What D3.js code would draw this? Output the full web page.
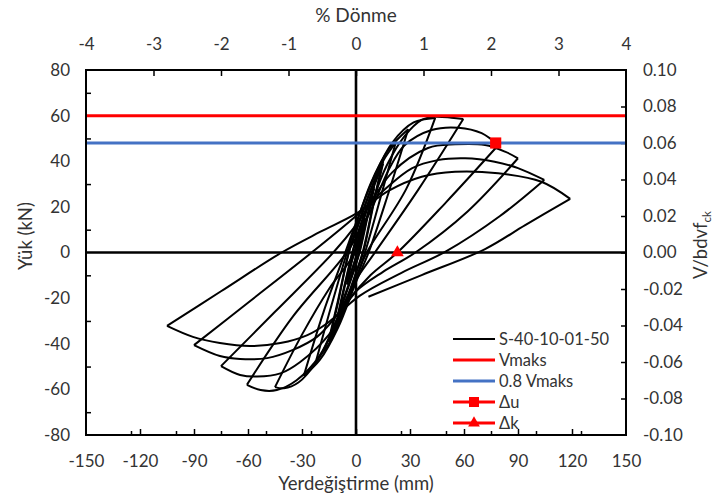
<!DOCTYPE html>
<html>
<head>
<meta charset="utf-8">
<script src="https://cdn.jsdelivr.net/npm/d3@7"></script>
<style>
  html, body { margin: 0; padding: 0; background: #fff; }
  svg { display: block; font-family: Lato, "Open Sans", sans-serif; }
</style>
</head>
<body>
<svg id="chart" width="714" height="499"></svg>
<script>
// Axis tick values
const displacementTicks = [-150, -120, -90, -60, -30, 0, 30, 60, 90, 120, 150];
const displacementMinorTicks = [-125, -100, -75, -50, -25, 25, 50, 75, 100, 125];
const loadTicks = [-80, -60, -40, -20, 0, 20, 40, 60, 80];
const loadMinorTicks = [-70, -50, -30, -10, 10, 30, 50, 70];
const driftTicks = [-4, -3, -2, -1, 0, 1, 2, 3, 4];
const ratioTicks = [-0.10, -0.08, -0.06, -0.04, -0.02, 0, 0.02, 0.04, 0.06, 0.08, 0.10];

// Reference levels and characteristic points
const vMaks = 60;        // kN
const vMaks08 = 48;      // 0.8 Vmaks, kN
const deltaU = [77.6, 48];
const deltaK = [23, 0];

// Load–displacement record [displacement (mm), load (kN)]
const hysteresis = [
  // ±5 mm
  [0, 0], [2.5, 7.5], [5, 14], [2.5, 5], [0, -2], [-2.5, -8], [-5, -13], [-2.5, -4], [0, 2],
  [2.5, 8], [5, 15], [2.5, 5.5], [0, -2], [-2.5, -8.5], [-5, -14], [-2.5, -4.5], [0, 2.5],
  // ±10 mm
  [5, 16], [10, 28], [6, 14], [2, 0], [0, -5], [-5, -16], [-10, -27], [-6, -13], [-2, 0], [0, 5],
  [5, 17], [10, 29], [6, 15], [2, 1], [0, -5], [-5, -17], [-10, -28], [-6, -14], [-2, 0], [0, 6],
  // ±15 mm
  [10, 29], [15, 39], [10, 22], [4, 0], [0, -9], [-7, -24], [-15, -38], [-10, -21], [-4, 0], [0, 9],
  [8, 27], [15, 40], [10, 23], [4, 1], [0, -9], [-7, -25], [-15, -39], [-10, -22], [-4, 0], [0, 10],
  // ±22 mm
  [8, 27], [15, 40], [22, 48], [15, 28], [5, 0], [0, -12], [-8, -28], [-15, -40], [-22, -47],
  [-15, -27], [-5, 0], [0, 12],
  // ±30 mm
  [8, 30], [18, 45], [29, 54], [18, 26], [7, 0], [0, -13], [-10, -33], [-20, -47], [-29, -54],
  [-18, -26], [-6, 0], [0, 13],
  // ±45 mm
  [10, 33], [20, 48], [32, 57], [44, 59], [28, 28], [6, 0], [0, -11], [-12, -33], [-22, -48],
  [-32, -57], [-40, -59.5], [-45, -59], [-30, -36], [-15, -16], [-0.6, 0],
  // ±60 mm
  [8, 20], [17, 38], [27, 51], [36.5, 58.1], [43.9, 59.5], [53, 59.1], [59.6, 58.5], [35, 28],
  [10.5, 0], [0, -12], [-10, -28], [-20, -45], [-33, -56], [-44, -60.3], [-53, -60.3], [-60.6, -58],
  [-35, -28], [-5.2, 0],
  // ±75 mm
  [8, 18], [18, 36], [27, 47], [42, 53.7], [56.9, 54.7], [69.8, 52.3], [79, 47], [50, 22], [23, 0],
  [8, -10], [-3, -20], [-15, -36], [-31, -48], [-42, -53], [-55, -54.4], [-64.4, -53.7], [-75, -49.8],
  [-45, -26], [-12.6, 0],
  // ±90 mm
  [0, 12], [20, 35], [40, 45.8], [55, 47.4], [71.7, 47.1], [82.8, 44.2], [90, 41.3], [62, 18], [33, 0],
  [15, -8.5], [0, -17], [-10, -27], [-21.7, -37], [-35, -42.7], [-49.4, -46.3], [-64.4, -46.7],
  [-75.6, -45.4], [-90, -40.6], [-60, -22], [-24.6, 0],
  // ±105 mm
  [0, 16], [15, 27], [31, 36.9], [45.4, 40.5], [60.6, 41.3], [77, 39.8], [90, 37], [104.6, 31.8],
  [80, 16], [50, 0.5], [25, -9], [2, -19], [-16, -31], [-27, -36.2], [-42, -39.7],
  [-59, -41], [-75.6, -39.7], [-90.6, -37], [-105, -32.2], [-75, -17], [-41.3, 0], [-20, 9], [0, 17],
  // +120 mm and final unloading
  [18, 27], [36.5, 33.2], [55, 35.4], [79, 34.7], [103, 31], [119, 23.5], [94, 12], [71.7, 1.5],
  [36.5, -9.9], [6.9, -19.4]
];

const legendLabels = ["S-40-10-01-50", "Vmaks", "0.8 Vmaks", "\u0394u", "\u0394k"];

// ---------------------------------------------------------------------------
const svg = d3.select("#chart");
const P = { left: 86, right: 626, top: 70, bottom: 435 };
const textColor = "#333";
const RED = "#ff0000", BLUE = "#4472c4";

const x = d3.scaleLinear().domain([-150, 150]).range([P.left, P.right]);
const y = d3.scaleLinear().domain([-80, 80]).range([P.bottom, P.top]);
const xTop = d3.scaleLinear().domain([-4, 4]).range([P.left, P.right]);
const yRight = d3.scaleLinear().domain([-0.1, 0.1]).range([P.bottom, P.top]);

function styleLabels(g, size) {
  g.select(".domain").remove();
  g.selectAll("text").attr("fill", textColor).attr("font-size", size)
    .attr("font-family", "Lato, 'Open Sans', sans-serif");
}
function styleTicks(g) {
  g.select(".domain").remove();
  g.selectAll("line").attr("stroke", "#000").attr("stroke-width", 1.5);
}

// Tick labels
svg.append("g").attr("transform", `translate(0,${P.bottom})`)
  .call(d3.axisBottom(x).tickValues(displacementTicks).tickFormat(d => String(d)).tickSize(0).tickPadding(20))
  .call(g => styleLabels(g, 17));
svg.append("g").attr("transform", `translate(${P.left},0)`)
  .call(d3.axisLeft(y).tickValues(loadTicks).tickFormat(d => String(d)).tickSize(0).tickPadding(16))
  .call(g => styleLabels(g, 17));
svg.append("g").attr("transform", `translate(0,${P.top})`)
  .call(d3.axisTop(xTop).tickValues(driftTicks).tickFormat(d => String(d)).tickSize(0).tickPadding(20))
  .call(g => styleLabels(g, 17));
svg.append("g").attr("transform", `translate(${P.right},0)`)
  .call(d3.axisRight(yRight).tickValues(ratioTicks).tickFormat(d => d.toFixed(2)).tickSize(0).tickPadding(17))
  .call(g => styleLabels(g, 17));

// Inward tick marks
svg.append("g").attr("transform", `translate(0,${P.bottom})`)
  .call(d3.axisBottom(x).tickValues(displacementTicks.slice(1, -1)).tickSize(-6).tickFormat(""))
  .call(styleTicks);
svg.append("g").attr("transform", `translate(0,${P.bottom})`)
  .call(d3.axisBottom(x).tickValues(displacementMinorTicks).tickSize(-4).tickFormat(""))
  .call(styleTicks);
svg.append("g").attr("transform", `translate(${P.left},0)`)
  .call(d3.axisLeft(y).tickValues(loadMinorTicks).tickSize(-5).tickFormat(""))
  .call(styleTicks);
svg.append("g").attr("transform", `translate(0,${P.top})`)
  .call(d3.axisTop(xTop).tickValues(driftTicks.slice(1, -1)).tickSize(-6).tickFormat(""))
  .call(styleTicks);
svg.append("g").attr("transform", `translate(${P.right},0)`)
  .call(d3.axisRight(yRight).tickValues(ratioTicks.slice(1, -1)).tickSize(-5).tickFormat(""))
  .call(styleTicks);

// Zero lines
svg.append("line").attr("x1", x(0)).attr("x2", x(0)).attr("y1", P.top).attr("y2", P.bottom)
  .attr("stroke", "#000").attr("stroke-width", 2.6);
svg.append("line").attr("x1", P.left).attr("x2", P.right).attr("y1", y(0)).attr("y2", y(0))
  .attr("stroke", "#000").attr("stroke-width", 2.6);

// Hysteresis curve, split into half-cycle branches at every reversal
const branches = [];
let current = [hysteresis[0]];
let dir = 0;
for (let i = 1; i < hysteresis.length; i++) {
  const d = Math.sign(hysteresis[i][0] - hysteresis[i - 1][0]);
  if (dir !== 0 && d !== 0 && d !== dir) {
    branches.push(current);
    current = [hysteresis[i - 1]];
  }
  if (d !== 0) dir = d;
  current.push(hysteresis[i]);
}
branches.push(current);

const line = d3.line().x(d => x(d[0])).y(d => y(d[1])).curve(d3.curveCatmullRom.alpha(0.5));
svg.append("g").selectAll("path").data(branches).join("path")
  .attr("d", line).attr("fill", "none").attr("stroke", "#000")
  .attr("stroke-width", 2).attr("stroke-linejoin", "round");

// Vmaks and 0.8 Vmaks levels
svg.append("line").attr("x1", P.left).attr("x2", P.right).attr("y1", y(vMaks)).attr("y2", y(vMaks))
  .attr("stroke", RED).attr("stroke-width", 3);
svg.append("line").attr("x1", P.left).attr("x2", P.right).attr("y1", y(vMaks08)).attr("y2", y(vMaks08))
  .attr("stroke", BLUE).attr("stroke-width", 3);

// Characteristic points
svg.append("path").attr("d", d3.symbol().type(d3.symbolSquare).size(125)())
  .attr("transform", `translate(${x(deltaU[0])},${y(deltaU[1])})`).attr("fill", RED);
svg.append("path").attr("d", d3.symbol().type(d3.symbolTriangle).size(70)())
  .attr("transform", `translate(${x(deltaK[0])},${y(deltaK[1])})`).attr("fill", RED);

// Plot frame
svg.append("rect").attr("x", P.left).attr("y", P.top)
  .attr("width", P.right - P.left).attr("height", P.bottom - P.top)
  .attr("fill", "none").attr("stroke", "#000").attr("stroke-width", 2);

// Legend
const legendEntries = legendLabels.map((label, i) => ({
  label,
  color: [ "#000", RED, BLUE, RED, RED ][i],
  width: i === 0 ? 2 : 3,
  marker: [null, null, null, d3.symbolSquare, d3.symbolTriangle][i],
  size: [0, 0, 0, 100, 60][i]
}));
const legend = svg.append("g").selectAll("g").data(legendEntries).join("g")
  .attr("transform", (d, i) => `translate(453,${339 + i * 21})`);
legend.append("line").attr("x1", 0).attr("x2", 42).attr("y1", 0).attr("y2", 0)
  .attr("stroke", d => d.color).attr("stroke-width", d => d.width);
legend.filter(d => d.marker !== null)
  .append("path")
  .attr("d", d => d3.symbol().type(d.marker).size(d.size)())
  .attr("transform", "translate(21,0)").attr("fill", RED);
legend.append("text").attr("x", 46).attr("dy", "0.35em").attr("font-size", 16.5)
  .attr("fill", textColor).text(d => d.label);

// Axis titles
svg.append("text").attr("x", (P.left + P.right) / 2).attr("y", 22).attr("text-anchor", "middle")
  .attr("font-size", 19).attr("fill", textColor).text("% Dönme");
svg.append("text").attr("x", (P.left + P.right) / 2).attr("y", 490).attr("text-anchor", "middle")
  .attr("font-size", 18.5).attr("fill", textColor).text("Yerdeğiştirme (mm)");
svg.append("text").attr("transform", "translate(32,236) rotate(-90)").attr("text-anchor", "middle")
  .attr("font-size", 18.5).attr("fill", textColor).text("Yük (kN)");
const rTitle = svg.append("text").attr("transform", "translate(707,245) rotate(-90)").attr("text-anchor", "middle")
  .attr("font-size", 18.5).attr("fill", textColor);
rTitle.append("tspan").text("V/bdvf");
rTitle.append("tspan").attr("font-size", 11.5).attr("dy", 4).text("ck");
</script>
</body>
</html>
